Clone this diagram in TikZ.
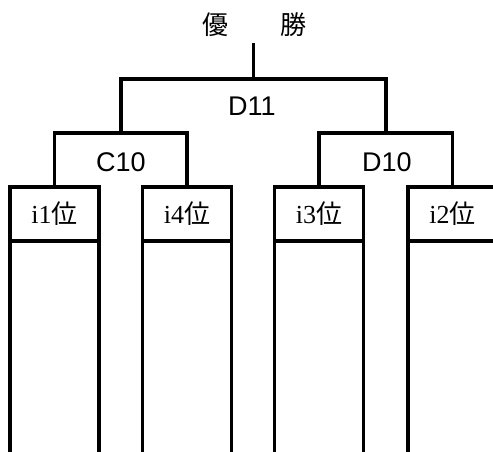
\documentclass[tikz,border=0pt]{standalone}
\usepackage{fontspec}
\setmainfont{Liberation Serif}
\setsansfont{Liberation Sans}
\newfontfamily\cjk{Noto Sans CJK JP}
\begin{document}
\begin{tikzpicture}[x=1pt,y=1pt,line width=3.6pt,
  hdr/.style={draw,minimum width=89pt,minimum height=54pt,inner sep=0pt,outer sep=0pt,
    font=\fontsize{26}{28}\selectfont},
  lbl/.style={font=\sffamily\fontsize{27}{29}\selectfont,inner sep=0pt},
  wintxt/.style={font=\cjk\fontsize{26}{28}\selectfont,inner sep=0pt}]
\useasboundingbox (0,0) rectangle (493,452);
\clip (0,0) rectangle (493,452);
% headers
\node[hdr] (b1) at (54.5,238) {i1{\cjk 位}};
\node[hdr] (b2) at (187,238) {i4{\cjk 位}};
\node[hdr] (b3) at (319,238) {i3{\cjk 位}};
\node[hdr] (b4) at (452.5,238) {i2{\cjk 位}};
% body lines
\foreach \b in {b1,b2,b3,b4}{
  \coordinate (\b bl) at ([yshift=-230pt]\b.south west);
  \coordinate (\b br) at ([yshift=-230pt]\b.south east);
  \draw (\b.south west) -- (\b bl);
  \draw (\b.south east) -- (\b br);
}
% brackets
\coordinate (c10) at (120.75,319);
\coordinate (d10) at (386,319);
\coordinate (d11) at (253.5,373);
\draw (b1.north) |- (c10) -| (b2.north);
\draw (b3.north) |- (d10) -| (b4.north);
\draw (c10) |- (d11) -| (d10);
\coordinate (top) at (253.5,409);
\draw (top) -- (d11);
% labels
\node[lbl] (lc10) at (121,290) {C10};
\node[lbl] (ld10) at (387,290) {D10};
\node[lbl] (ld11) at (252,346) {D11};
\node[wintxt] (win) at (254,427) {優\hspace{52pt}勝};
\end{tikzpicture}
\end{document}
